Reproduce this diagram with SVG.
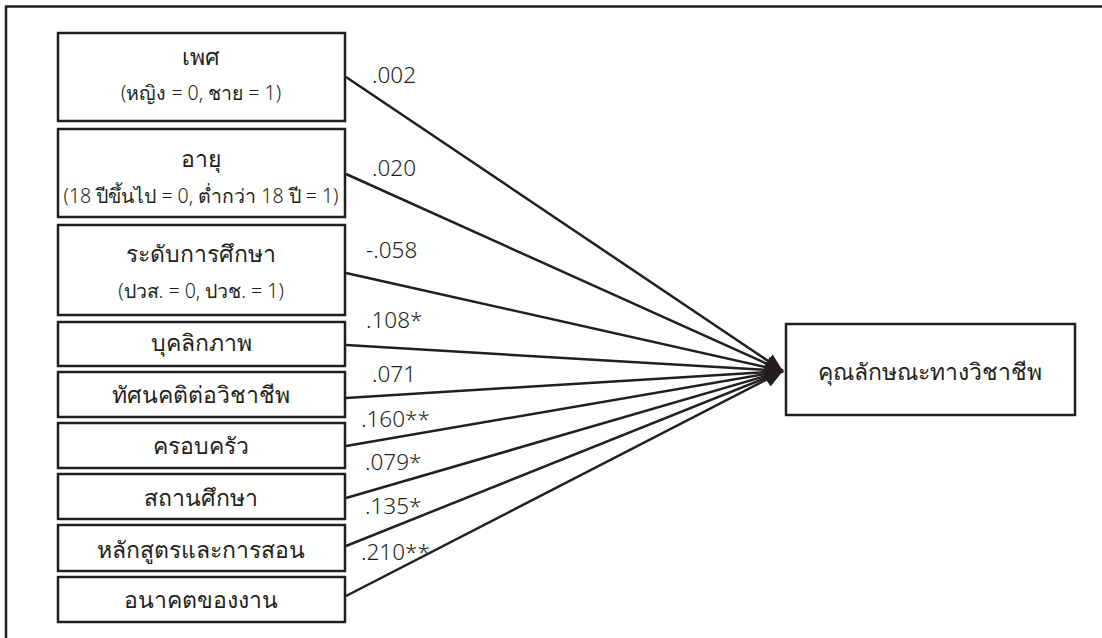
<svg xmlns="http://www.w3.org/2000/svg" width="1102" height="638" viewBox="0 0 1102 638">
<style>
.box{fill:#fff;stroke:#231f20;stroke-width:2.5}
.t{font-family:"Noto Sans","DejaVu Sans",sans-serif;fill:#231f20;text-anchor:middle;font-size:23px;font-weight:300}
.s{font-family:"Noto Sans","DejaVu Sans",sans-serif;fill:#231f20;text-anchor:middle;font-size:19.5px;font-weight:300}
.n{font-family:"Noto Sans","Liberation Sans",sans-serif;fill:#231f20;font-size:22.5px;font-weight:300}
.c{stroke:#231f20;stroke-width:2.5;fill:none;marker-end:url(#ah)}
</style>
<defs>
<marker id="ah" markerUnits="userSpaceOnUse" markerWidth="20" markerHeight="16" refX="18" refY="8" orient="auto">
<path d="M0,0 L18,8 L0,16 Z" fill="#231f20"/>
</marker>
</defs>
<g id="frame" stroke="#231f20" stroke-width="2.5" fill="none">
<line x1="5" y1="6.5" x2="1102" y2="6.5"/>
<line x1="6" y1="6" x2="6" y2="638"/>
</g>
<g id="connectors">
<line class="c" x1="346" y1="77" x2="783" y2="371"/>
<line class="c" x1="346" y1="174" x2="783" y2="371"/>
<line class="c" x1="346" y1="273" x2="783" y2="371"/>
<line class="c" x1="346" y1="345" x2="783" y2="371"/>
<line class="c" x1="346" y1="398" x2="783" y2="371"/>
<line class="c" x1="346" y1="446" x2="783" y2="371"/>
<line class="c" x1="346" y1="498" x2="783" y2="371"/>
<line class="c" x1="346" y1="546" x2="783" y2="371"/>
<line class="c" x1="346" y1="596" x2="783" y2="371"/>
</g>
<g id="labels">
<text class="n" x="372" y="83">.002</text>
<text class="n" x="372" y="176">.020</text>
<text class="n" x="366" y="258">-.058</text>
<text class="n" x="366" y="328">.108*</text>
<text class="n" x="372" y="382">.071</text>
<text class="n" x="361" y="427">.160**</text>
<text class="n" x="365" y="470">.079*</text>
<text class="n" x="365" y="514">.135*</text>
<text class="n" x="361" y="560">.210**</text>
</g>
<g id="n1"><rect class="box" x="58" y="33" width="287" height="88"/><text class="t" x="201" y="65">เพศ</text><text class="s" x="201" y="100">(หญิง = 0, ชาย = 1)</text></g>
<g id="n2"><rect class="box" x="58" y="129" width="287" height="88"/><text class="t" x="201" y="167">อายุ</text><text class="s" x="201" y="203">(18 ปีขึ้นไป = 0, ต่ำกว่า 18 ปี = 1)</text></g>
<g id="n3"><rect class="box" x="58" y="225" width="287" height="90"/><text class="t" x="201" y="262">ระดับการศึกษา</text><text class="s" x="201" y="298">(ปวส. = 0, ปวช. = 1)</text></g>
<g id="n4"><rect class="box" x="58" y="322" width="287" height="44"/><text class="t" x="201" y="351">บุคลิกภาพ</text></g>
<g id="n5"><rect class="box" x="58" y="372" width="287" height="45"/><text class="t" x="201" y="403">ทัศนคติต่อวิชาชีพ</text></g>
<g id="n6"><rect class="box" x="58" y="423" width="287" height="45"/><text class="t" x="201" y="454">ครอบครัว</text></g>
<g id="n7"><rect class="box" x="58" y="474" width="287" height="45"/><text class="t" x="201" y="506">สถานศึกษา</text></g>
<g id="n8"><rect class="box" x="58" y="525" width="287" height="46"/><text class="t" x="201" y="558">หลักสูตรและการสอน</text></g>
<g id="n9"><rect class="box" x="58" y="577" width="287" height="45"/><text class="t" x="201" y="608">อนาคตของงาน</text></g>
<g id="target"><rect class="box" x="786" y="324" width="289" height="91"/><text class="t" x="930" y="380">คุณลักษณะทางวิชาชีพ</text></g>
</svg>
